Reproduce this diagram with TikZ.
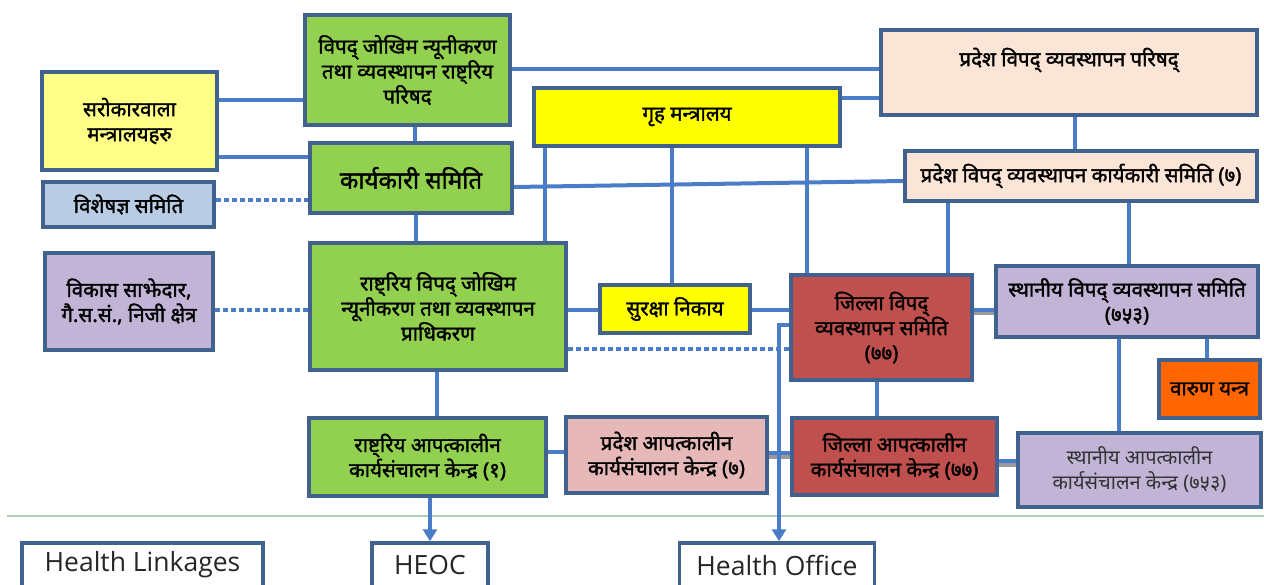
\documentclass[tikz,border=0pt]{standalone}
\usepackage{fontspec}
\usetikzlibrary{arrows.meta}
\newfontfamily\dev[Script=Devanagari, Language=Nepali]{Noto Sans}
\newfontfamily\devb[Script=Devanagari, Language=Nepali, FakeBold=1.6]{Noto Sans}
\newfontfamily\hfont{Open Sans}
\definecolor{bordc}{HTML}{41618F}
\definecolor{linec}{HTML}{4A7CC7}
\definecolor{shadc}{HTML}{9A9A9A}
\definecolor{sepc}{HTML}{A9D3B4}
\definecolor{gfill}{HTML}{92D050}
\definecolor{pyel}{HTML}{FFFF88}
\definecolor{byel}{HTML}{FFFF00}
\definecolor{lblue}{HTML}{B8CCE4}
\definecolor{lav}{HTML}{C2B4D6}
\definecolor{peach}{HTML}{FBE5D6}
\definecolor{pink}{HTML}{E6B8B7}
\definecolor{redf}{HTML}{C0504D}
\definecolor{orng}{HTML}{FF6600}
\tikzset{
  box/.style={draw=bordc, line width=4pt, align=center, inner sep=2pt,
    font=\devb\fontsize{20.5}{25}\selectfont},
  hbox/.style={draw=bordc, line width=3.5pt, fill=white, align=center,
    font=\hfont\fontsize{26.5}{30}\selectfont, text=black!85},
  conn/.style={draw=linec, line width=4pt},
  dotconn/.style={conn, dash pattern=on 5pt off 3pt},
  shad/.style={preaction={draw=shadc, line width=5pt, transform canvas={yshift=-3pt}}},
  arr/.style={conn, -{Triangle[width=14pt,length=12pt]}},
}
\begin{document}
\begin{tikzpicture}[x=1pt,y=-1pt]
\useasboundingbox (0,0) rectangle (1264,585);
\clip (0,0) rectangle (1264,585);
% separator
\draw[sepc, line width=2.5pt] (7,516) -- (1264,516);
% connectors
\coordinate (hoturn) at (779,325);
% boxes
\node[box, fill=gfill, minimum width=205pt, minimum height=110pt] (ncouncil) at (407.5,70)
  {विपद् जोखिम न्यूनीकरण\\तथा व्यवस्थापन राष्ट्रिय\\परिषद};
\node[box, fill=pyel, minimum width=175pt, minimum height=98pt] (saro) at (129.5,121)
  {सरोकारवाला\\मन्त्रालयहरु};
\node[box, fill=lblue, minimum width=171pt, minimum height=45pt] (vishes) at (128.5,204.5)
  {विशेषज्ञ समिति};
\node[box, fill=gfill, minimum width=202pt, minimum height=70pt,
  font=\devb\fontsize{24}{28}\selectfont] (karya) at (411,178)
  {कार्यकारी समिति};
\node[box, fill=byel, minimum width=306pt, minimum height=58pt] (griha) at (687,117)
  {गृह मन्त्रालय};
\node[box, fill=peach, minimum width=376pt, minimum height=85pt] (pparishad) at (1069,72.5) {};
\node[font=\devb\fontsize{20.5}{25}\selectfont] (pptext) at (1069,60) {प्रदेश विपद् व्यवस्थापन परिषद्};
\node[box, fill=peach, minimum width=352pt, minimum height=50pt] (pkarya) at (1081,176)
  {प्रदेश विपद् व्यवस्थापन कार्यकारी समिति (७)};
\node[box, fill=lav, minimum width=168pt, minimum height=97pt] (vikas) at (129,301.5)
  {विकास साझेदार,\\गै.स.सं., निजी क्षेत्र};
\node[box, fill=gfill, minimum width=256pt, minimum height=127pt] (pradhi) at (438,306.5)
  {राष्ट्रिय विपद् जोखिम\\न्यूनीकरण तथा व्यवस्थापन\\प्राधिकरण};
\node[box, fill=byel, minimum width=150pt, minimum height=48pt] (suraksha) at (675,309)
  {सुरक्षा निकाय};
\node[box, fill=redf, minimum width=181pt, minimum height=105pt] (jilla) at (881.5,327.5)
  {जिल्ला विपद्\\व्यवस्थापन समिति\\(७७)};
\node[box, fill=lav, minimum width=262pt, minimum height=71pt] (sthaniya) at (1127,301.5)
  {स्थानीय विपद् व्यवस्थापन समिति\\(७५३)};
\node[box, fill=orng, minimum width=101pt, minimum height=58pt] (varun) at (1209.5,389)
  {वारुण यन्त्र};
\node[box, fill=gfill, minimum width=237pt, minimum height=78pt] (reoc) at (427.5,457)
  {राष्ट्रिय आपत्कालीन\\कार्यसंचालन केन्द्र (१)};
\node[box, fill=pink, minimum width=201pt, minimum height=76pt] (peoc) at (666.5,455)
  {प्रदेश आपत्कालीन\\कार्यसंचालन केन्द्र (७)};
\node[box, fill=redf, minimum width=205pt, minimum height=77pt] (deoc) at (894.5,456.5)
  {जिल्ला आपत्कालीन\\कार्यसंचालन केन्द्र (७७)};
\node[box, fill=lav, minimum width=243pt, minimum height=74pt,
  font=\dev\fontsize{20}{25}\selectfont, text=black!80] (leoc) at (1139.5,470)
  {स्थानीय आपत्कालीन\\कार्यसंचालन केन्द्र (७५३)};
\node[hbox, minimum width=241pt, minimum height=44pt] (hl) at (142.5,565) {Health Linkages};
\node[hbox, minimum width=116pt, minimum height=44pt] (heoc) at (430,565) {HEOC};
\node[hbox, minimum width=195pt, minimum height=44pt] (ho) at (777,565) {Health Office};
% connectors
\draw[conn] (saro.east |- 0,100) -- (ncouncil.west |- 0,100);
\draw[conn] (saro.east |- 0,157) -- (karya.west |- 0,157);
\draw[dotconn] (vishes.east |- 0,200) -- (karya.west |- 0,200);
\draw[dotconn] (vikas.east |- 0,310) -- (pradhi.west |- 0,310);
\draw[conn] (ncouncil.south -| 415,0) -- (karya.north -| 415,0);
\draw[conn] (karya.south -| 416,0) -- (pradhi.north -| 416,0);
\draw[conn] (ncouncil.east |- 0,69) -- (pparishad.west |- 0,69);
\draw[conn] (griha.east |- 0,98) -- (pparishad.west |- 0,98);
\draw[conn] (karya.east |- 0,187) -- (pkarya.west |- 0,181);
\draw[conn] (pparishad.south -| 1075,0) -- (pkarya.north -| 1075,0);
\draw[conn] (griha.south -| 545,0) -- (pradhi.north -| 545,0);
\draw[conn] (griha.south -| 672,0) -- (suraksha.north -| 672,0);
\draw[conn] (griha.south -| 807,0) -- (jilla.north -| 807,0);
\draw[conn] (pkarya.south -| 948,0) -- (jilla.north -| 948,0);
\draw[conn] (pkarya.south -| 1129,0) -- (sthaniya.north -| 1129,0);
\draw[conn] (pradhi.east |- 0,310) -- (suraksha.west |- 0,310);
\draw[conn] (suraksha.east |- 0,310) -- (jilla.west |- 0,310);
\draw[dotconn] (pradhi.east |- 0,349) -- (jilla.west |- 0,349);
\draw[conn, shad] (jilla.east |- 0,310) -- (sthaniya.west |- 0,310);
\draw[conn] (jilla.south -| 877,0) -- (deoc.north -| 877,0);
\draw[conn] (sthaniya.south -| 1119,0) -- (leoc.north -| 1119,0);
\draw[conn] (sthaniya.south -| 1207,0) -- (varun.north -| 1207,0);
\draw[conn] (pradhi.south -| 437,0) -- (reoc.north -| 437,0);
\draw[conn] (reoc.east |- 0,452) -- (peoc.west |- 0,452);
\draw[conn, shad] (peoc.east |- 0,453) -- (deoc.west |- 0,453);
\draw[conn, shad] (deoc.east |- 0,461) -- (leoc.west |- 0,461);
\draw[arr] (reoc.south -| heoc.north) -- (heoc.north);
\draw[arr] (jilla.west |- hoturn) -- (hoturn) -- (hoturn |- ho.north);
\end{tikzpicture}
\end{document}
